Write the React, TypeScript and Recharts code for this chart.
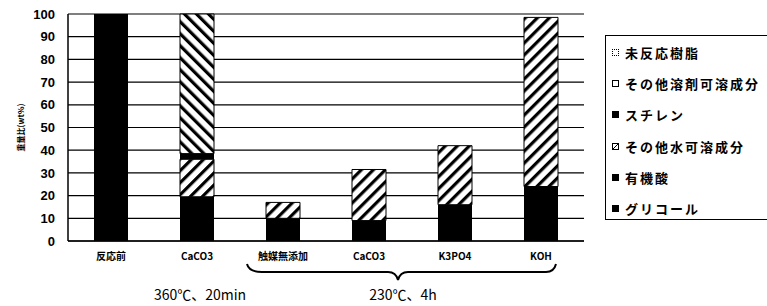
import React from 'react';
import { BarChart, Bar, Cell, XAxis, YAxis, CartesianGrid } from 'recharts';

const categories = ['反応前', 'CaCO3', '触媒無添加', 'CaCO3', 'K3PO4', 'KOH'];
const glycol = [0, 19.5, 10, 9, 16, 20];
const organicAcid = [0, 0, 0, 0, 0, 4];
const waterSoluble = [0, 16.5, 7, 22.5, 26, 74.5];
const styrene = [0, 2.5, 0, 0, 0, 0];
const solventSoluble = [0, 61.5, 0, 0, 0, 0];
const unreacted = [100, 0, 0, 0, 0, 0];
const yTicks = [0, 10, 20, 30, 40, 50, 60, 70, 80, 90, 100];

const legendItems = [
  { label: '未反応樹脂', kind: 'dotted' },
  { label: 'その他溶剤可溶成分', kind: 'white' },
  { label: 'スチレン', kind: 'black' },
  { label: 'その他水可溶成分', kind: 'hatch' },
  { label: '有機酸', kind: 'black' },
  { label: 'グリコール', kind: 'black' },
];

const data = categories.map((name, i) => ({
  name,
  glycol: glycol[i],
  organicAcid: organicAcid[i],
  waterSoluble: waterSoluble[i],
  styrene: styrene[i],
  solventSoluble: solventSoluble[i],
  unreacted: unreacted[i],
}));

const FONT = "'Noto Sans CJK JP', 'Liberation Sans', sans-serif";

const Marker = ({ kind }: { kind: string }) => {
  const base: React.CSSProperties = { width: 7, height: 7, display: 'inline-block', boxSizing: 'border-box', marginRight: 6 };
  if (kind === 'black') return <span style={{ ...base, background: '#000' }} />;
  if (kind === 'dotted') return <span style={{ ...base, border: '1px dotted #000', background: '#fff' }} />;
  if (kind === 'hatch')
    return (
      <svg width={7} height={7} style={{ marginRight: 6 }}>
        <rect x={0.5} y={0.5} width={6} height={6} fill="#fff" stroke="#000" />
        <line x1={1} y1={6} x2={6} y2={1} stroke="#000" />
      </svg>
    );
  return <span style={{ ...base, border: '1.5px solid #000', background: '#fff' }} />;
};

const App: React.FC = () => {
  return (
    <div style={{ position: 'absolute', left: 0, top: 0, width: 767, height: 306, background: '#fff', fontFamily: FONT, overflow: 'hidden' }}>
      <BarChart
        width={767}
        height={306}
        data={data}
        margin={{ top: 14, right: 183, left: 0, bottom: 35 }}
        barSize={34}
      >
        <defs>
          <pattern id="fwd" patternUnits="userSpaceOnUse" width={8.5} height={8.5} patternTransform="rotate(45)">
            <rect x={0} y={0} width={8.5} height={8.5} fill="#fff" />
            <rect x={0} y={0} width={3.2} height={8.5} fill="#000" />
          </pattern>
          <pattern id="back" patternUnits="userSpaceOnUse" width={8.5} height={8.5} patternTransform="rotate(-45)">
            <rect x={0} y={0} width={8.5} height={8.5} fill="#fff" />
            <rect x={0} y={0} width={3.2} height={8.5} fill="#000" />
          </pattern>
        </defs>
        <CartesianGrid vertical={false} stroke="#000" strokeWidth={1.2} yAxisId="left" />
        <XAxis
          dataKey="name"
          height={30}
          axisLine={{ stroke: '#000', strokeWidth: 1.5 }}
          tickLine={false}
          tickSize={0}
          tickMargin={12}
          tick={{ fill: '#000', fontSize: 10, fontWeight: 700, fontFamily: FONT }}
          interval={0}
        />
        <YAxis
          yAxisId="left"
          width={68}
          domain={[0, 100]}
          ticks={yTicks}
          interval={0}
          axisLine={{ stroke: '#000', strokeWidth: 1.5 }}
          tickLine={false}
          tickSize={0}
          tickMargin={13}
          tick={{ fill: '#000', fontSize: 13, fontWeight: 700, fontFamily: "'Liberation Sans', sans-serif" }}
          label={{
            value: '重量比(wt%)',
            angle: -90,
            position: 'insideLeft',
            offset: 21,
            style: { fontSize: 8, fontWeight: 700, fill: '#000', fontFamily: FONT, textAnchor: 'middle' },
          }}
        />
        <YAxis
          yAxisId="right"
          orientation="right"
          width={0}
          domain={[0, 100]}
          axisLine={{ stroke: '#000', strokeWidth: 1.5 }}
          tick={false}
          tickLine={false}
        />
        <Bar yAxisId="left" dataKey="glycol" stackId="s" fill="#000" isAnimationActive={false} />
        <Bar yAxisId="left" dataKey="organicAcid" stackId="s" fill="#000" isAnimationActive={false} />
        <Bar yAxisId="left" dataKey="waterSoluble" stackId="s" fill="url(#fwd)" stroke="#000" strokeWidth={1} isAnimationActive={false} />
        <Bar yAxisId="left" dataKey="styrene" stackId="s" fill="#000" isAnimationActive={false} />
        <Bar yAxisId="left" dataKey="solventSoluble" stackId="s" fill="url(#back)" stroke="#000" strokeWidth={1} isAnimationActive={false} />
        <Bar yAxisId="left" dataKey="unreacted" stackId="s" fill="#fff" isAnimationActive={false}>
          {data.map((d, i) => (
            <Cell key={`u-${i}`} fill={i === 0 ? '#000' : '#fff'} />
          ))}
        </Bar>
      </BarChart>

      <svg width={767} height={306} style={{ position: 'absolute', left: 0, top: 0, pointerEvents: 'none' }}>
        <path
          d="M247,264 Q249,272 262,272 L388,272 Q396,272 398,280 Q400,272 408,272 L546,272 Q554,272 556,264"
          fill="none"
          stroke="#000"
          strokeWidth={2}
        />
        <text x={200} y={300} textAnchor="middle" fontSize={14} fontFamily={FONT} fill="#000">
          360℃、20min
        </text>
        <text x={403} y={300} textAnchor="middle" fontSize={14} fontFamily={FONT} fill="#000">
          230℃、4h
        </text>
      </svg>

      <div
        style={{
          position: 'absolute',
          left: 605,
          top: 35,
          width: 170,
          height: 185,
          border: '1px solid #000',
          boxSizing: 'border-box',
          paddingTop: 1,
          paddingLeft: 6,
        }}
      >
        {legendItems.map((it) => (
          <div
            key={it.label}
            style={{ display: 'flex', alignItems: 'center', height: 31.2, fontSize: 13, fontWeight: 700, letterSpacing: 2, color: '#000', whiteSpace: 'nowrap' }}
          >
            <Marker kind={it.kind} />
            <span>{it.label}</span>
          </div>
        ))}
      </div>
    </div>
  );
};

export default App;
